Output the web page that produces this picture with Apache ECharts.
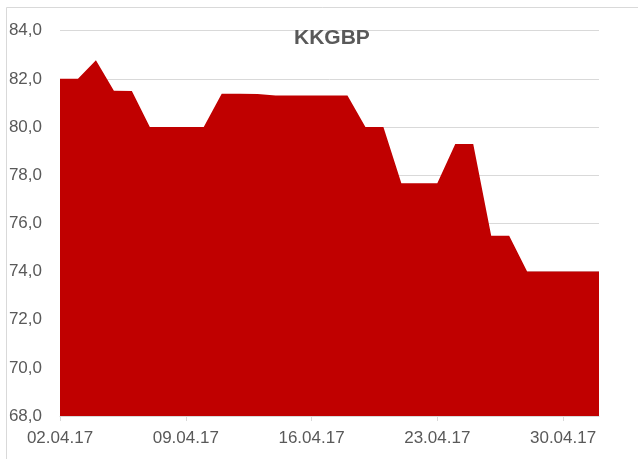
<!DOCTYPE html>
<html>
<head>
<meta charset="utf-8">
<script src="https://cdn.jsdelivr.net/npm/echarts@6/dist/echarts.min.js"></script>
<style>html,body{margin:0;padding:0;background:#fff;}#c{width:638px;height:459px;}</style>
</head>
<body>
<div id="c"></div>
<script>
const dates = ['02.04.17','03.04.17','04.04.17','05.04.17','06.04.17','07.04.17','08.04.17','09.04.17','10.04.17','11.04.17','12.04.17','13.04.17','14.04.17','15.04.17','16.04.17','17.04.17','18.04.17','19.04.17','20.04.17','21.04.17','22.04.17','23.04.17','24.04.17','25.04.17','26.04.17','27.04.17','28.04.17','29.04.17','30.04.17','01.05.17','02.05.17'];
const values = [82.0,82.0,82.77,81.51,81.5,80.0,80.0,80.0,80.0,81.38,81.38,81.37,81.31,81.31,81.31,81.31,81.31,80.0,80.0,77.67,77.67,77.67,79.29,79.29,75.48,75.48,74.0,74.0,74.0,74.0,74.0];
const yTicks = [68,70,72,74,76,78,80,82,84];
const title = 'KKGBP';

const FONT = "'Liberation Sans',Arial,sans-serif";
const chart = echarts.init(document.getElementById('c'), null, {renderer:'canvas'});
chart.setOption({
  animation:false,
  backgroundColor:'#ffffff',
  graphic:[{type:'rect',z:0,shape:{x:6.5,y:7.5,width:700,height:500},style:{fill:'none',stroke:'#d9d9d9',lineWidth:1},silent:true}],
  title:{text:title,left:289,top:23,textStyle:{fontFamily:FONT,fontSize:21,fontWeight:'bold',color:'#595959'}},
  grid:{left:60,right:39,top:30.7,bottom:43,containLabel:false},
  xAxis:{type:'category',data:dates,boundaryGap:false,
    axisLine:{lineStyle:{color:'#d9d9d9',width:1}},
    axisTick:{show:true,interval:6,length:5,lineStyle:{color:'#d9d9d9'}},
    axisLabel:{interval:6,color:'#595959',fontFamily:FONT,fontSize:17,margin:14},
    splitLine:{show:false}},
  yAxis:{type:'value',min:yTicks[0],max:yTicks[yTicks.length-1],interval:2,
    axisLine:{show:false},axisTick:{show:false},
    axisLabel:{color:'#595959',fontFamily:FONT,fontSize:17,margin:18,formatter:v=>v.toFixed(1).replace('.',',')},
    splitLine:{lineStyle:{color:'#d9d9d9',width:1}}},
  series:[{type:'line',data:values,symbol:'none',lineStyle:{width:0},areaStyle:{color:'#c00000',opacity:1},itemStyle:{color:'#c00000'}}]
});
</script>
</body>
</html>
